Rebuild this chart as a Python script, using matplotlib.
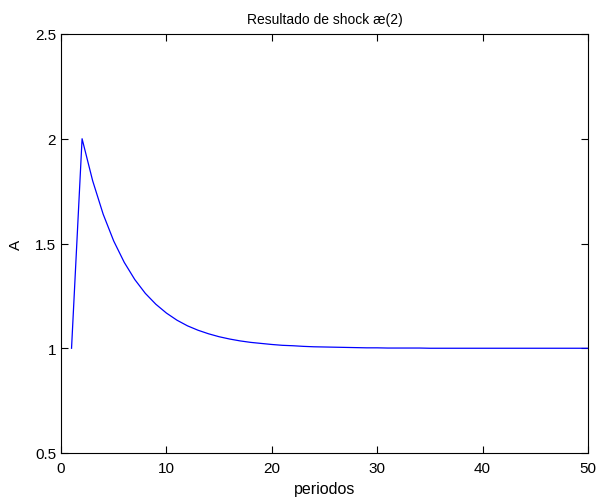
import matplotlib
matplotlib.use("Agg")
import matplotlib.pyplot as plt

plt.rcParams['font.family'] = ['Liberation Sans', 'DejaVu Sans']

periods = list(range(1, 51))
A = [1.0, 2.0, 1.8, 1.64, 1.512, 1.41, 1.328, 1.262, 1.21, 1.168,
     1.134, 1.107, 1.086, 1.069, 1.055, 1.044, 1.035, 1.028, 1.023, 1.018,
     1.014, 1.012, 1.009, 1.007, 1.006, 1.005, 1.004, 1.003, 1.002, 1.002,
     1.001, 1.001, 1.001, 1.001, 1.0, 1.0, 1.0, 1.0, 1.0, 1.0,
     1.0, 1.0, 1.0, 1.0, 1.0, 1.0, 1.0, 1.0, 1.0, 1.0]
xticks = [0, 10, 20, 30, 40, 50]
yticks = [0.5, 1, 1.5, 2, 2.5]
ytick_labels = ['0.5', '1', '1.5', '2', '2.5']

fig = plt.figure(figsize=(6.03, 5.02), dpi=100)
ax = fig.add_axes([61/603, 48/502, 527/603, 419/502])
ax.plot(periods, A, color='#0000ff', linewidth=0.9)
ax.set_xlim(0, 50)
ax.set_ylim(0.5, 2.5)
ax.set_xticks(xticks)
ax.set_yticks(yticks)
ax.set_yticklabels(ytick_labels)
ax.tick_params(direction='in', top=True, right=True, labelsize=11, length=5, width=0.8)
ax.tick_params(axis='x', pad=6)
for s in ax.spines.values():
    s.set_linewidth(0.8)
ax.set_xlabel('periodos', fontsize=11.5, labelpad=4)
ax.set_ylabel('A', fontsize=11, labelpad=9)
ax.set_title('Resultado de shock æ(2)', fontsize=10, pad=8)
fig.savefig('out.png', dpi=100)
